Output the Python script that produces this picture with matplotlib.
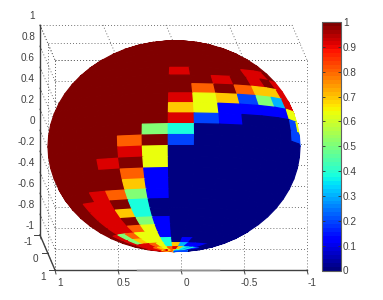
import numpy as np
import matplotlib
matplotlib.use("Agg")
import matplotlib.pyplot as plt
from matplotlib.collections import PolyCollection
from matplotlib.cm import ScalarMappable
from matplotlib.colors import Normalize

plt.rcParams['font.family'] = ['Liberation Sans', 'DejaVu Sans']

x_ticks = [1, 0.5, 0, -0.5, -1]
y_ticks = [-1, 0, 1]
z_ticks = [1, 0.8, 0.6, 0.4, 0.2, 0, -0.2, -0.4, -0.6, -0.8, -1]
bar_ticks = [0, 0.1, 0.2, 0.3, 0.4, 0.5, 0.6, 0.7, 0.8, 0.9, 1]
A = 1.0
# Rows: latitude bands from +90 down to -90 in 6 degree steps.
# Columns: longitude bands from -12 to 192 in 12 degree steps.
r00 = [A]*17
r01 = [A]*17
r02 = [A]*17
r03 = [A]*17
r04 = [A]*17
r05 = [A]*17
r06 = [A]*17
r07 = [A]*17
r08 = [A,A,A,A,A,A,A,A,.92,A,A,A,.92,.92,A,A,A]
r09 = [A,A,A,A,A,A,A,A,A,A,.92,A,.92,A,.92,.92,.92]
r10 = [A,A,A,A,A,A,A,A,A,.8,A,.8,.7,.7,.92,.92,.92]
r11 = [A,A,A,A,A,A,A,A,.92,.63,.7,.2,.5,.3,.92,.92,.92]
r12 = [A,A,A,A,A,A,A,A,.7,.63,.12,.12,.12,.12,.63,.63,.63]
r13 = [A,A,A,A,A,A,A,A,.92,.2,.12,0,0,0,.2,.63,.63]
r14 = [A,A,A,A,A,A,A,.5,.38,0,0,0,0,0,.2,.2,.2]
r15 = [A,A,A,A,A,A,.8,A,.2,0,0,0,0,0,0,0,0]
r16 = [A,A,A,A,A,A,.92,.63,0,0,0,0,0,0,0,0,.7]
r17 = [A,A,A,A,A,.92,A,.63,0,0,0,0,0,0,0,0,0]
r18 = [A,A,A,A,A,A,.8,.12,0,0,0,0,0,0,0,0,0]
r19 = [A,A,A,A,A,A,.7,.12,0,0,0,0,0,0,0,0,0]
r20 = [A,A,A,A,.92,.8,.5,.12,0,0,0,0,0,0,0,0,0]
r21 = [A,A,A,.92,.92,A,.38,0,0,0,0,0,0,0,0,0,0]
r22 = [A,A,A,.92,.92,.7,.38,0,0,0,0,0,0,0,0,0,0]
r23 = [A,A,A,.92,.92,A,.5,.12,0,0,0,0,0,0,0,0,0]
r24 = [A,A,A,.92,.92,.8,.63,.12,0,0,0,0,0,0,0,0,0]
r25 = [A,A,.92,.5,.8,.63,.63,.12,0,0,0,0,0,0,0,0,0]
r26 = [A,A,.92,.5,.7,.63,.63,.38,0,.12,0,0,0,0,0,0,0]
r27 = [A,A,.92,.92,.92,.8,.63,.38,.7,.3,.12,.12,.12,0,0,0,0]
r28 = [A,.92,.92,.92,.8,.7,.63,.8,.92,.7,.38,.3,.38,.2,.12,0,0]
r29 = [.92,.92,.8,.7,.8,.92,.7,.8,.7,.38,.5,.3,.38,.3,.38,.3,.2]
cell_values = np.array([r00,r01,r02,r03,r04,r05,r06,r07,r08,r09,r10,r11,r12,r13,r14,
                        r15,r16,r17,r18,r19,r20,r21,r22,r23,r24,r25,r26,r27,r28,r29])

fig = plt.figure(figsize=(3.83, 3.0), dpi=100)
ax = fig.add_axes([0, 0, 1, 1])
ax.set_xlim(0, 383)
ax.set_ylim(300, 0)
ax.axis('off')

def box(x, y, z):
    return 173.5 - 126*np.asarray(x) + 7.5*np.asarray(y), 147.5 - 105*np.asarray(z) + 17.5*np.asarray(y)

def sphere(x, y, z):
    return 174 - 126*x + 7.5*y, 146.5 - 105*z - 12*y

dot = dict(color='#606060', lw=0.65, ls=(0, (1, 2.4)), zorder=1)
def seg(p, q, **kw):
    xs, ys = box(*zip(p, q))
    ax.plot(xs, ys, **kw)

for zt in z_ticks:
    seg((1, 1, zt), (-1, 1, zt), **dot)
    seg((1, -1, zt), (1, 1, zt), **dot)
for xt in x_ticks:
    seg((xt, 1, -1), (xt, 1, 1), **dot)
    seg((xt, -1, 1), (xt, 1, 1), **dot)
for yt in y_ticks:
    seg((1, yt, 1), (-1, yt, 1), **dot)
    seg((1, yt, -1), (1, yt, 1), **dot)

# Sphere faces
lat_edges = np.radians(np.arange(90, -91, -6))
lon_edges = np.radians(np.arange(-12, 193, 12))
polys, vals = [], []
for i in range(len(lat_edges)-1):
    for j in range(len(lon_edges)-1):
        la = np.array([lat_edges[i], lat_edges[i], lat_edges[i+1], lat_edges[i+1]])
        lo = np.array([lon_edges[j], lon_edges[j+1], lon_edges[j+1], lon_edges[j]])
        sx, sy = sphere(np.cos(la)*np.cos(lo), np.cos(la)*np.sin(lo), np.sin(la))
        area = 0.5*np.sum(sx*np.roll(sy, -1) - np.roll(sx, -1)*sy)
        if area < 0:
            continue
        polys.append(np.column_stack([sx, sy]))
        vals.append(cell_values[i, j])
cmap = plt.get_cmap('jet', 64)
norm = Normalize(0, 1)
pc = PolyCollection(polys, array=np.array(vals), cmap=cmap, norm=norm, edgecolors='face', linewidths=0.9, zorder=3)
ax.add_collection(pc)

# Axis lines
axc = '#404040'
seg((1, 1, -1), (-1, 1, -1), color=axc, lw=1, zorder=4)
seg((1, -1, 1), (1, -1, -1), color=axc, lw=1, zorder=4)
seg((1, -1, -1), (1, 1, -1), color=axc, lw=1, zorder=4)
seg((0.35, 1, -1), (-0.3, 1, -1), color='#909090', lw=1, zorder=5)

txt = dict(color='#404040', fontsize=7.2, zorder=6)
for xt in x_ticks:
    px, py = box(xt, 1, -1)
    ax.plot([px, px+1], [py, py+4], color=axc, lw=0.7, zorder=4)
    ax.text(px+5.5, py+13, f'{xt:g}', ha='center', va='center', **txt)
for zt in z_ticks:
    px, py = box(1, -1, zt)
    ax.plot([px, px+1], [py, py+4], color=axc, lw=0.6, zorder=4)
    ax.text(px-5, py-9, f'{zt:g}', ha='right', va='center', **txt)
for yt in y_ticks:
    px, py = box(1, yt, -1)
    ax.plot([px-6, px], [py, py], color=axc, lw=0.7, zorder=4)
    ax.text(px-12, py+7, f'{yt:g}', ha='center', va='center', **txt)

# Colour bar
cax = fig.add_axes([322/383, 1-270.5/300, 19/383, 248.5/300])
cb = fig.colorbar(ScalarMappable(norm=norm, cmap=cmap), cax=cax, ticks=bar_ticks)
cb.ax.set_yticklabels([f'{t:g}' for t in bar_ticks])
cb.ax.tick_params(direction='in', length=2, width=0.6, color='#303030', labelsize=7.2, labelcolor='#404040', pad=1.5, right=True, left=True)
cb.outline.set_edgecolor('#606060')
cb.outline.set_linewidth(0.8)

fig.savefig('out.png', dpi=100)
